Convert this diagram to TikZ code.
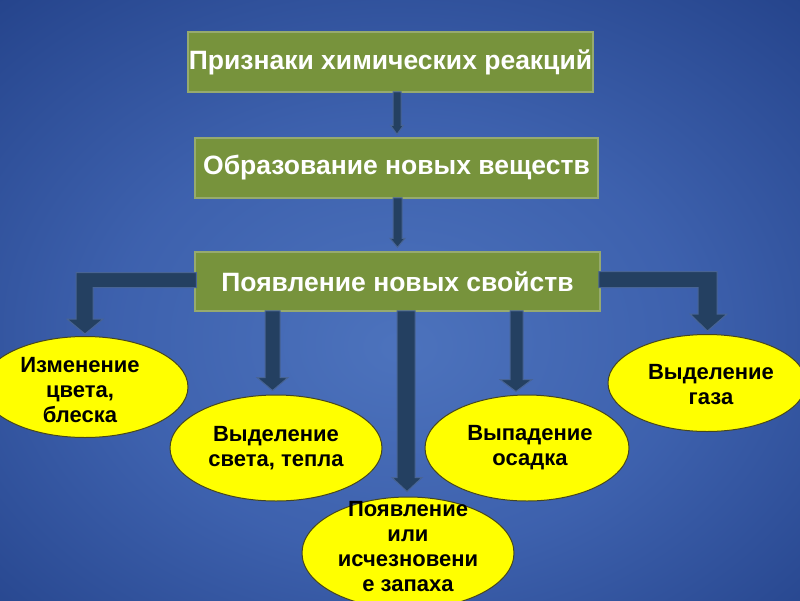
\documentclass[tikz,border=0pt]{standalone}
\usepackage{fontspec}
\setmainfont{Liberation Sans}
\usetikzlibrary{shapes.geometric,calc}
\definecolor{boxfill}{RGB}{119,147,60}
\definecolor{boxline}{RGB}{150,170,110}
\definecolor{arrfill}{RGB}{36,64,97}
\definecolor{arrline}{RGB}{72,100,148}
\definecolor{ellfill}{RGB}{255,255,0}
\definecolor{ellline}{RGB}{70,70,30}
\pgfdeclareradialshading{bgshade}{\pgfpoint{0bp}{-4bp}}{rgb(0bp)=(0.30,0.45,0.74); rgb(18bp)=(0.24,0.38,0.68); rgb(38bp)=(0.14,0.26,0.54); rgb(68bp)=(0.07,0.15,0.38)}
\tikzset{
  box/.style={draw=boxline, line width=1.5pt, fill=boxfill, text=white, inner sep=0pt,
    font=\fontsize{26.5}{30}\selectfont\bfseries},
  ell/.style={ellipse, draw=ellline, line width=1pt, fill=ellfill, inner sep=0pt},
  etext/.style={align=center, text=black, inner sep=0pt, font=\fontsize{22}{25}\selectfont\bfseries},
  barrow/.style={fill=arrfill, draw=arrline, line width=1pt, line join=miter}
}
\begin{document}
\begin{tikzpicture}[x=1pt,y=-1pt]
\useasboundingbox (0,0) rectangle (800,600);
\clip (0,0) rectangle (800,600);
\shade[shading=bgshade] (0,0) rectangle (800,600);

% boxes (positions)
\node[box, minimum width=405, minimum height=60] (b1) at (390.5,62) {Признаки химических реакций};
\node[box, minimum width=403, minimum height=60] (b2) at (396.5,168) {Образование новых веществ};
\node[box, minimum width=405, minimum height=59] (b3) at (397.5,281.5) {Появление новых свойств};

% ellipses
\node[ell, minimum width=206, minimum height=101] (e1) at (85,387) {};
\node[ell, minimum width=212, minimum height=106] (e2) at (276,448) {};
\node[ell, minimum width=212, minimum height=112] (e3) at (408,553) {};
\node[ell, minimum width=204, minimum height=106] (e4) at (527,448) {};
\node[ell, minimum width=198, minimum height=97] (e5) at (707,383) {};

\node[etext] (t1) at (e1.center) [xshift=-5, yshift=-3] {Изменение\\цвета,\\блеска};
\node[etext] (t2) at (e2.center) {Выделение\\света, тепла};
\node[etext] (t3) at (e3.center) [yshift=6] {Появление\\или\\исчезновени\\е запаха};
\node[etext] (t4) at (e4.center) [xshift=3] {Выпадение\\осадка};
\node[etext] (t5) at (e5.center) [xshift=4, yshift=-2] {Выделение\\газа};

% arrows between boxes
\path[barrow] let \p1=(b1.south), \p2=(b2.north) in
  (393pt,\y1+1pt) -- (401pt,\y1+1pt) -- (401pt,\y2+12pt) -- (403.5pt,\y2+12pt) -- (397pt,\y2+3pt)
  -- (390.5pt,\y2+12pt) -- (393pt,\y2+12pt) -- cycle;
\path[barrow] let \p1=(b2.south), \p2=(b3.north) in
  (393pt,\y1+1pt) -- (402pt,\y1+1pt) -- (402pt,\y2+13pt) -- (405pt,\y2+13pt) -- (397.5pt,\y2+4pt)
  -- (390pt,\y2+13pt) -- (393pt,\y2+13pt) -- cycle;

% elbow arrows
\path[barrow] let \p1=(b3.west), \p2=(e1.north) in
  (\x1+2pt,\y1+9pt) -- (76pt,\y1+9pt) -- (76pt,\y2+17pt) -- (67pt,\y2+17pt) -- (85pt,\y2+2pt)
  -- (103pt,\y2+17pt) -- (93pt,\y2+17pt) -- (93pt,\y1-6pt) -- (\x1+2pt,\y1-6pt) -- cycle;
\path[barrow] let \p1=(b3.east), \p2=(e5.north) in
  (\x1-2pt,\y1+10pt) -- (717pt,\y1+10pt) -- (717pt,\y2+20pt) -- (727pt,\y2+20pt) -- (707.5pt,\y2+3pt)
  -- (690pt,\y2+20pt) -- (698pt,\y2+20pt) -- (698pt,\y1-6pt) -- (\x1-2pt,\y1-6pt) -- cycle;

% straight down arrows
\path[barrow] let \p1=(b3.south), \p2=(e2.north) in
  (265pt,\y1+1pt) -- (280pt,\y1+1pt) -- (280pt,\y2+17pt) -- (288pt,\y2+17pt) -- (272.5pt,\y2+4pt)
  -- (257pt,\y2+17pt) -- (265pt,\y2+17pt) -- cycle;
\path[barrow] let \p1=(b3.south), \p2=(e3.north) in
  (397pt,\y1+1pt) -- (415pt,\y1+1pt) -- (415pt,\y2+19pt) -- (422pt,\y2+19pt) -- (407pt,\y2+5pt)
  -- (392pt,\y2+19pt) -- (397pt,\y2+19pt) -- cycle;
\path[barrow] let \p1=(b3.south), \p2=(e4.north) in
  (510pt,\y1+1pt) -- (523pt,\y1+1pt) -- (523pt,\y2+15pt) -- (532pt,\y2+15pt) -- (516pt,\y2+3pt)
  -- (500pt,\y2+15pt) -- (510pt,\y2+15pt) -- cycle;
\end{tikzpicture}
\end{document}
